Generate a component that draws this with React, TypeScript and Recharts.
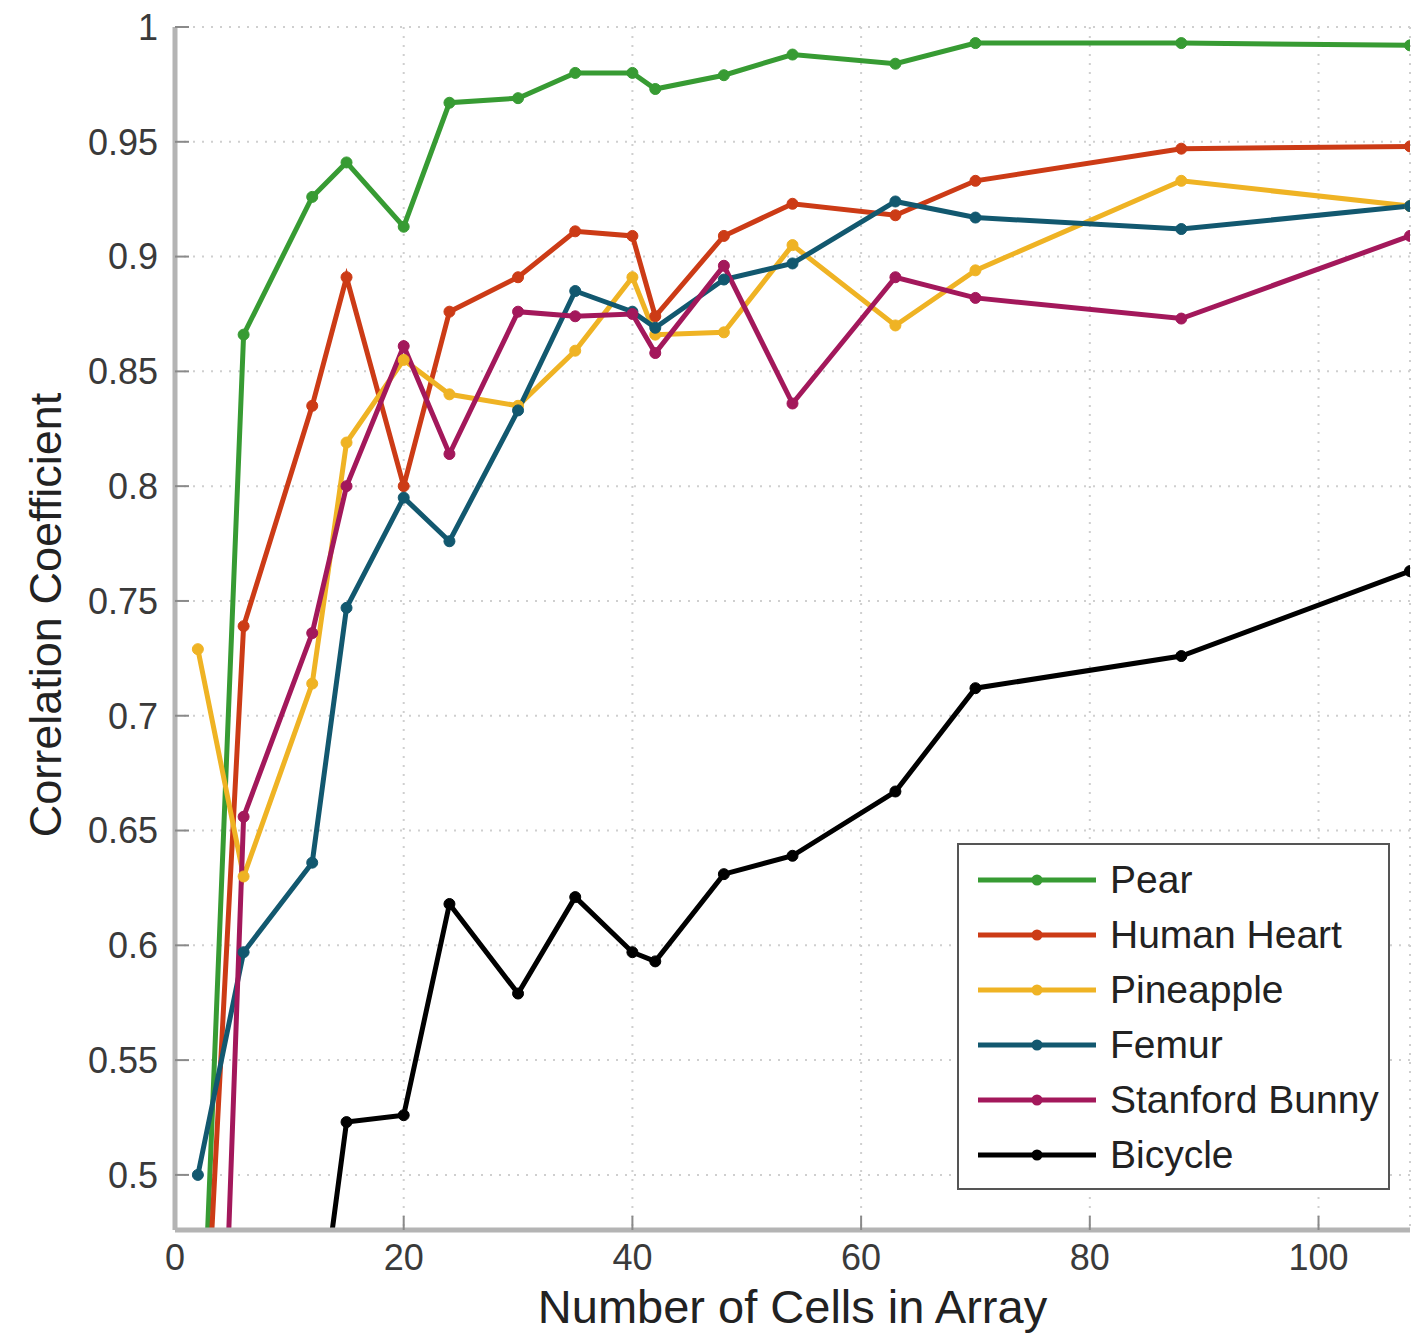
import { CartesianGrid, Legend, Line, LineChart, XAxis, YAxis } from 'recharts'

// number of cells in the array (x)
const cells = [2, 6, 12, 15, 20, 24, 30, 35, 40, 42, 48, 54, 63, 70, 88, 108]

// correlation coefficient per object
const pear = [0.37, 0.866, 0.926, 0.941, 0.913, 0.967, 0.969, 0.98, 0.98, 0.973, 0.979, 0.988, 0.984, 0.993, 0.993, 0.992]
const humanHeart = [0.36, 0.739, 0.835, 0.891, 0.8, 0.876, 0.891, 0.911, 0.909, 0.874, 0.909, 0.923, 0.918, 0.933, 0.947, 0.948]
const pineapple = [0.729, 0.63, 0.714, 0.819, 0.855, 0.84, 0.835, 0.859, 0.891, 0.866, 0.867, 0.905, 0.87, 0.894, 0.933, 0.922]
const femur = [0.5, 0.597, 0.636, 0.747, 0.795, 0.776, 0.833, 0.885, 0.876, 0.869, 0.89, 0.897, 0.924, 0.917, 0.912, 0.922]
const bunny = [0.1, 0.656, 0.736, 0.8, 0.861, 0.814, 0.876, 0.874, 0.875, 0.858, 0.896, 0.836, 0.891, 0.882, 0.873, 0.909]
const bicycle = [0.2, 0.3, 0.41, 0.523, 0.526, 0.618, 0.579, 0.621, 0.597, 0.593, 0.631, 0.639, 0.667, 0.712, 0.726, 0.763]

const xTicks = [0, 20, 40, 60, 80, 100]
const yTicks = [0.5, 0.55, 0.6, 0.65, 0.7, 0.75, 0.8, 0.85, 0.9, 0.95, 1]

const series = [
  { key: 'pear', name: 'Pear', values: pear, color: '#379b33' },
  { key: 'heart', name: 'Human Heart', values: humanHeart, color: '#cc3b16' },
  { key: 'pineapple', name: 'Pineapple', values: pineapple, color: '#efb324' },
  { key: 'femur', name: 'Femur', values: femur, color: '#12586f' },
  { key: 'bunny', name: 'Stanford Bunny', values: bunny, color: '#a3185b' },
  { key: 'bicycle', name: 'Bicycle', values: bicycle, color: '#000000' },
]

const data = cells.map((x, i) => {
  const row: Record<string, number> = { x }
  series.forEach((s) => {
    row[s.key] = s.values[i]
  })
  return row
})

const font = '"Liberation Sans", Arial, Helvetica, sans-serif'
const tickStyle = { fontSize: 36, fill: '#3a3a3a', fontFamily: font }

function LegendBox() {
  return (
    <div
      style={{
        width: 433,
        height: 347,
        boxSizing: 'border-box',
        border: '2px solid #555',
        background: '#fff',
        paddingTop: 7,
        fontFamily: font,
      }}
    >
      {series.map((s) => (
        <div key={s.key} style={{ display: 'flex', alignItems: 'center', height: 55 }}>
          <svg width={151} height={20} style={{ flex: 'none' }}>
            <line x1={19} y1={10} x2={137} y2={10} stroke={s.color} strokeWidth={5} />
            <circle cx={78} cy={10} r={5.5} fill={s.color} />
          </svg>
          <span style={{ fontSize: 39, color: '#222', lineHeight: '39px' }}>{s.name}</span>
        </div>
      ))}
    </div>
  )
}

export default function App() {
  return (
    <div style={{ position: 'absolute', left: 0, top: 0, width: 1424, height: 1338, background: '#fff' }}>
      <LineChart width={1424} height={1338} data={data} margin={{ top: 27, right: 14, bottom: 0, left: 25 }}>
        <CartesianGrid stroke="#cfcfcf" strokeWidth={2} strokeDasharray="2 7" />
        <XAxis
          type="number"
          dataKey="x"
          domain={[0, 108]}
          ticks={xTicks}
          allowDataOverflow
          height={108}
          tickSize={-14}
          tickMargin={28}
          axisLine={{ stroke: '#b4b4b4', strokeWidth: 5 }}
          tickLine={{ stroke: '#8a8a8a', strokeWidth: 2 }}
          tick={tickStyle}
          label={{
            value: 'Number of Cells in Array',
            position: 'insideBottom',
            offset: 15,
            fontSize: 47,
            fill: '#222',
            fontFamily: font,
          }}
        />
        <YAxis
          type="number"
          domain={[0.476, 1]}
          ticks={yTicks}
          allowDataOverflow
          width={150}
          tickSize={-14}
          tickMargin={31}
          axisLine={{ stroke: '#b4b4b4', strokeWidth: 5 }}
          tickLine={{ stroke: '#8a8a8a', strokeWidth: 2 }}
          tick={tickStyle}
          tickFormatter={(v: number) => String(Number(v.toFixed(2)))}
          label={{
            content: () => (
              <text
                x={45}
                y={615}
                transform="rotate(-90 45 615)"
                textAnchor="middle"
                dominantBaseline="central"
                fontSize={45}
                fill="#222"
                fontFamily={font}
              >
                Correlation Coefficient
              </text>
            ),
          }}
        />
        <Legend
          layout="vertical"
          align="center"
          verticalAlign="middle"
          content={() => <LegendBox />}
          wrapperStyle={{ left: 957, top: 843, width: 433, height: 347 }}
        />
        {series.map((s) => (
          <Line
            key={s.key}
            type="linear"
            dataKey={s.key}
            name={s.name}
            stroke={s.color}
            strokeWidth={5}
            dot={{ r: 5.5, fill: s.color, stroke: s.color, strokeWidth: 1 }}
            isAnimationActive={false}
          />
        ))}
      </LineChart>
    </div>
  )
}
